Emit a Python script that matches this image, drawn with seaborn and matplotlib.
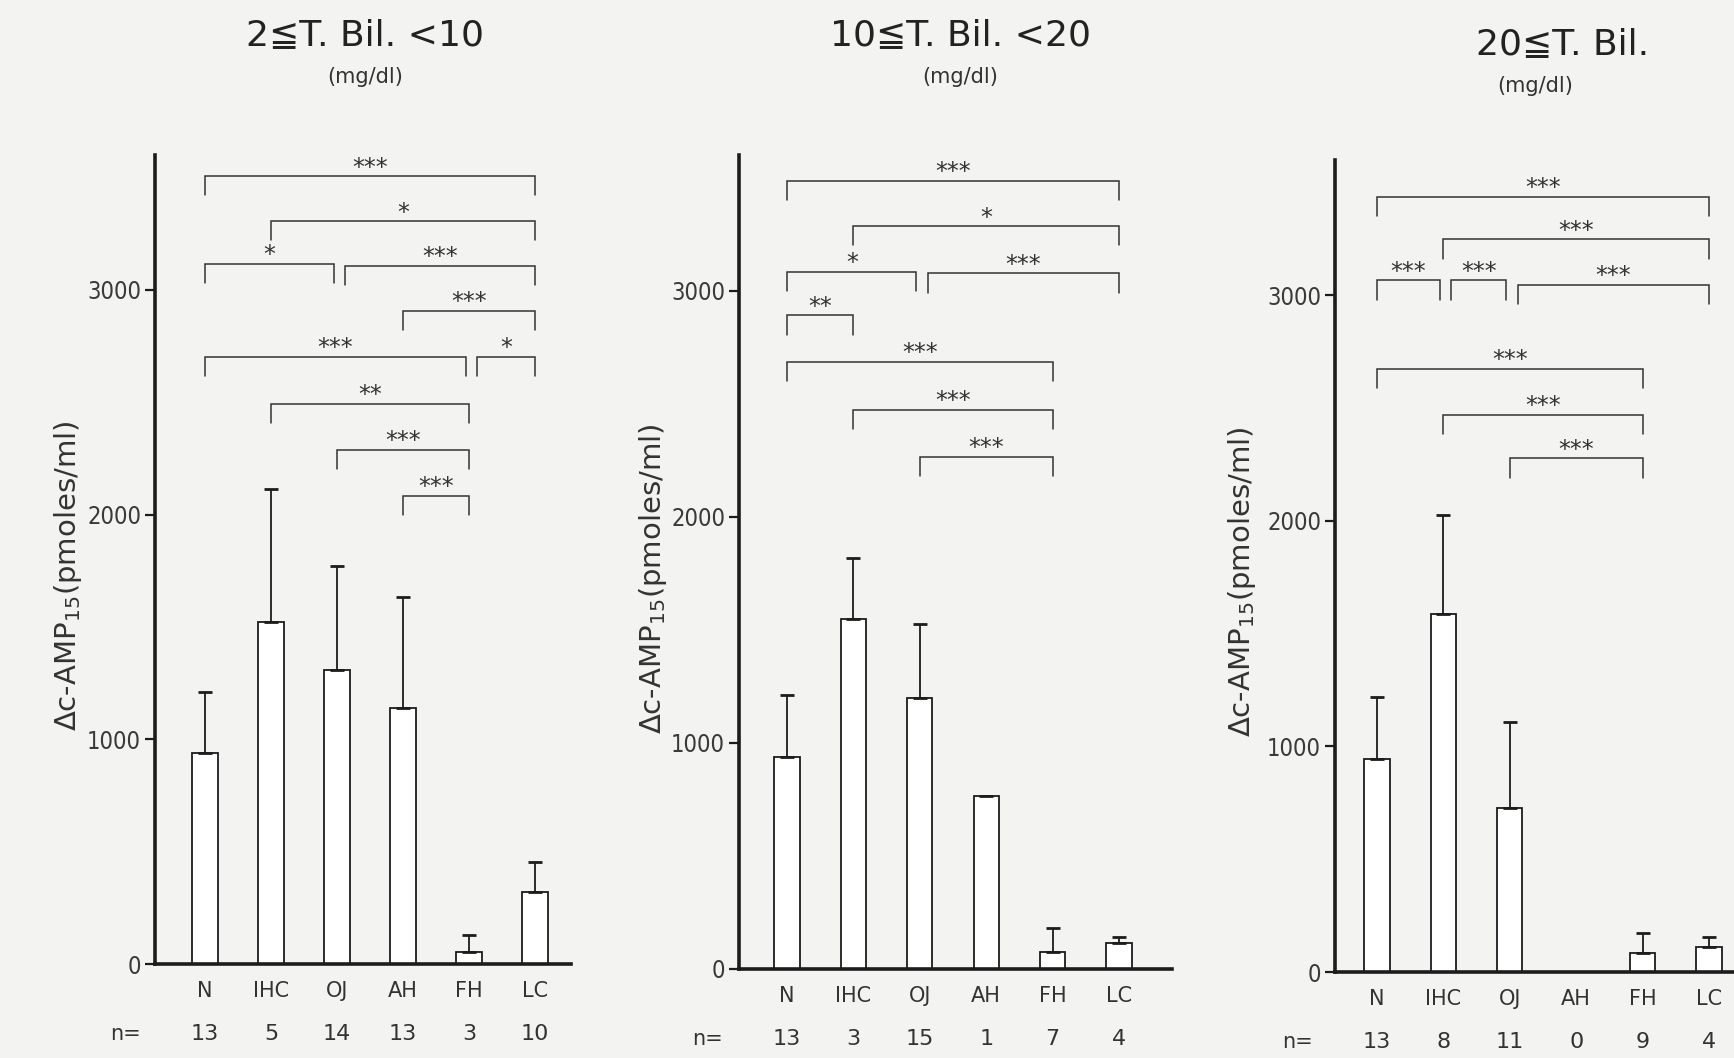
import numpy as np
import pandas as pd
import matplotlib
matplotlib.use("Agg")
import matplotlib.pyplot as plt
import seaborn as sns

# groups on the x axis
groups = ["N", "IHC", "OJ", "AH", "FH", "LC"]

# panel titles (total bilirubin ranges)
titles = ["2≦T. Bil. <10", "10≦T. Bil. <20", "20≦T. Bil."]
unit_text = "(mg/dl)"
ylabel = r"$\Delta$c-AMP$_{15}$(pmoles/ml)"

# mean values (pmoles/ml)
mean_low = [938, 1520, 1307, 1140, 55, 322]
mean_mid = [936, 1549, 1198, 766, 75, 115]
mean_high = [945, 1585, 726, np.nan, 86, 111]

# upper SD (error bar length)
sd_low = [272, 595, 465, 495, 73, 133]
sd_mid = [277, 270, 329, np.nan, 105, 25]
sd_high = [273, 440, 382, np.nan, 87, 45]

# number of cases
n_low = [13, 5, 14, 13, 3, 10]
n_mid = [13, 3, 15, 1, 7, 4]
n_high = [13, 8, 11, 0, 9, 4]

# significance brackets: (group a, group b, level, stars)
sig_low = [("N", "LC", 3505, "***"), ("IHC", "LC", 3305, "*"),
           ("N", "OJ", 3115, "*"), ("OJ", "LC", 3107, "***"),
           ("AH", "LC", 2908, "***"), ("N", "FH", 2702, "***"),
           ("FH", "LC", 2702, "*"), ("IHC", "FH", 2492, "**"),
           ("OJ", "FH", 2287, "***"), ("AH", "FH", 2084, "***")]
sig_mid = [("N", "LC", 3485, "***"), ("IHC", "LC", 3285, "*"),
           ("N", "OJ", 3083, "*"), ("OJ", "LC", 3076, "***"),
           ("N", "IHC", 2891, "**"), ("N", "FH", 2685, "***"),
           ("IHC", "FH", 2473, "***"), ("OJ", "FH", 2265, "***")]
sig_high = [("N", "LC", 3438, "***"), ("IHC", "LC", 3248, "***"),
            ("N", "IHC", 3066, "***"), ("IHC", "OJ", 3066, "***"),
            ("OJ", "LC", 3048, "***"), ("N", "FH", 2674, "***"),
            ("IHC", "FH", 2470, "***"), ("OJ", "FH", 2277, "***")]

panels = [
    (titles[0], mean_low, sd_low, n_low, sig_low),
    (titles[1], mean_mid, sd_mid, n_mid, sig_mid),
    (titles[2], mean_high, sd_high, n_high, sig_high),
]

sns.set_style("ticks")
plt.rcParams["font.family"] = ["DejaVu Sans", "Noto Sans CJK JP"]
plt.rcParams["mathtext.fontset"] = "dejavusans"

BG = "#f3f3f1"
INK = "#1c1c1c"
W, H = 1734, 1058
fig = plt.figure(figsize=(W / 100, H / 100), dpi=100, facecolor=BG)

# axes boxes in pixels: left, baseline, top, x of first bar, bar spacing, right limit
boxes = [(155, 964, 155, 205, 66.0, 5.55),
         (739, 969, 155, 787, 66.4, 5.8),
         (1335, 972, 160, 1377, 66.4, 5.9)]
label_off = [71, 70, 77]
title_pos = [(365, 35, 77), (960, 35, 77), (1563, 44, 86)]
sub_x = [365, 960, 1535]

for k, (title, means, sds, ns, sigs) in enumerate(panels):
    left, base, top, x0, step, xr = boxes[k]
    xl = -(x0 - left) / step
    width_px = (xr - xl) * step
    ax = fig.add_axes([left / W, (H - base) / H, width_px / W, (base - top) / H])
    ax.set_facecolor("none")

    df = pd.DataFrame({"group": groups, "value": means})
    sns.barplot(data=df, x="group", y="value", order=groups, color="white",
                edgecolor=INK, linewidth=1.3, width=0.38, errorbar=None,
                saturation=1, ax=ax)
    xs = np.arange(len(groups))
    lower = np.zeros(len(groups))
    ax.errorbar(xs, means, yerr=[lower, sds], fmt="none", ecolor=INK,
                elinewidth=1.3, capsize=5, capthick=2)

    # significance brackets
    for a, b, lev, stars in sigs:
        ia, ib = groups.index(a), groups.index(b)
        xa, xb = float(ia), float(ib)
        for a2, b2, lev2, _ in sigs:
            if abs(lev2 - lev) < 60 and (a2, b2) != (a, b):
                if groups.index(b2) == ia:
                    xa += 0.12
                if groups.index(a2) == ib:
                    xb -= 0.05
        ax.plot([xa, xa, xb, xb], [lev - 85, lev, lev, lev - 85],
                color="#333333", lw=1.1, solid_joinstyle="miter")
        ax.text((xa + xb) / 2, lev - 15, stars, ha="center", va="bottom",
                fontsize=17, color="#333333")

    ax.set_xlim(xl, xr)
    ax.set_ylim(0, 3600)
    ax.set_yticks([0, 1000, 2000, 3000])
    ax.set_yticklabels(["0", "1000", "2000", "3000"],
                       family=["Liberation Sans Narrow", "DejaVu Sans"],
                       fontstretch="condensed", fontsize=17, color="#3a3a3a")
    ax.set_xticks(xs)
    ax.set_xticklabels(groups, fontsize=15, color="#333333")
    ax.tick_params(axis="x", length=0, pad=12)
    ax.tick_params(axis="y", length=7, width=1.6, color=INK, pad=3)
    ax.set_xlabel("")
    ax.set_ylabel(ylabel, fontsize=21, color="#333333")
    ax.yaxis.set_label_coords(-label_off[k] / width_px, 0.48)
    for s in ["top", "right"]:
        ax.spines[s].set_visible(False)
    for s in ["left", "bottom"]:
        ax.spines[s].set_linewidth(2.6)
        ax.spines[s].set_color(INK)

    # n row under the group names
    tr = ax.get_xaxis_transform()
    yrow = -70 / (base - top)
    ax.text(-1.2, yrow, "n=", transform=tr, ha="center", va="center",
            fontsize=15, color="#333333", clip_on=False)
    for i, n in enumerate(ns):
        ax.text(i, yrow, str(n), transform=tr, ha="center", va="center",
                fontsize=16, color="#333333", clip_on=False)

    tx, ty, sy = title_pos[k]
    fig.text(tx / W, 1 - ty / H, title, ha="center", va="center",
             fontsize=26, color="#222222")
    fig.text(sub_x[k] / W, 1 - sy / H, unit_text, ha="center", va="center",
             fontsize=15, color="#333333")

fig.savefig("out.png", dpi=100, facecolor=BG)
